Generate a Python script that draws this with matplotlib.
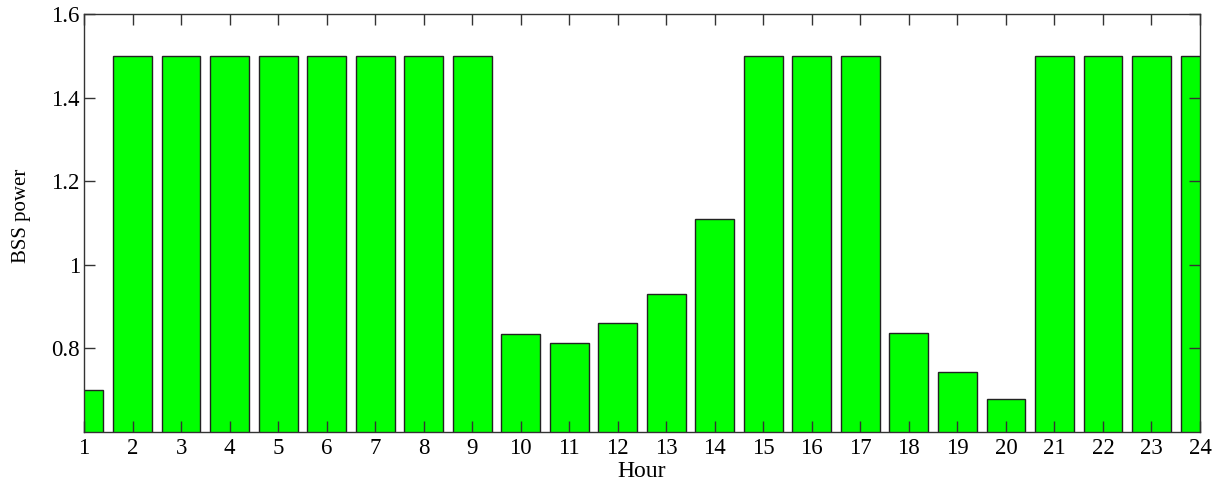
import matplotlib.pyplot as plt
import numpy as np

hours = np.arange(1, 25)
bss_power = [0.70, 1.5, 1.5, 1.5, 1.5, 1.5, 1.5, 1.5, 1.5, 0.834, 0.813, 0.860,
             0.931, 1.110, 1.5, 1.5, 1.5, 0.837, 0.744, 0.680, 1.5, 1.5, 1.5, 1.5]
y_ticks = [0.8, 1.0, 1.2, 1.4, 1.6]

plt.rcParams['font.family'] = ['Liberation Serif', 'DejaVu Serif']

fig = plt.figure(figsize=(12.25, 4.82), dpi=100)
ax = fig.add_axes([0.0686, 0.1037, 0.911, 0.8673])

ax.bar(hours, bss_power, width=0.8, color='#00ff00', edgecolor='#222222', linewidth=1.0)

ax.set_xlim(1, 24)
ax.set_ylim(0.6, 1.6)
ax.set_xticks(hours)
ax.set_yticks(y_ticks)
ax.set_yticklabels(['%g' % v for v in y_ticks])
ax.tick_params(direction='in', length=8, width=1, labelsize=16.5, color='#333333',
               top=True, right=True)
ax.tick_params(axis='x', pad=4)
ax.tick_params(axis='y', pad=3)

for s in ax.spines.values():
    s.set_color('#333333')
    s.set_linewidth(1.0)

ax.set_xlabel('Hour', fontsize=17, va='center')
ax.xaxis.set_label_coords(0.5, -0.095)
ax.set_ylabel('BSS power', fontsize=15, va='center')
ax.yaxis.set_label_coords(-0.056, 0.518)

fig.savefig('out.png', dpi=100)
